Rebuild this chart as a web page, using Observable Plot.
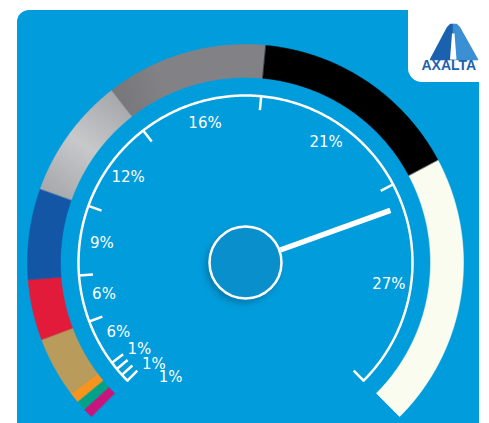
<!DOCTYPE html>
<html><head><meta charset="utf-8">
<script src="https://cdn.jsdelivr.net/npm/d3@7"></script>
<script src="https://cdn.jsdelivr.net/npm/@observablehq/plot@0.6"></script>
<style>
html,body{margin:0;padding:0;background:#fff;}
svg{overflow:hidden}
</style></head><body><div id="chart"></div>
<script>
// ---- data ----
const colorNames = ["Other","Green","Yellow/Gold","Natural","Red","Blue","Silver","Gray","Black","White"];
const shares = [1,1,1,6,6,9,12,16,21,27];
const segmentColors = ["#c8157d","#00a28a","#f7941e","#b99b5c","#e31b3b","#1456a6","#b7b8bb","#808084","#000000","#fbfcf0"];
const tickLabels = shares.map(v => v + "%");
const needleValue = 76;

// ---- geometry helpers ----
const W = 489, H = 423, CX = 245, CY = 262;
const BG = "#019cdb";
const angle = d3.scaleLinear([0, 100], [-135, 135]);
const rad = d => d * Math.PI / 180;
const polar = (deg, r) => ({x: r * Math.sin(rad(deg)), y: r * Math.cos(rad(deg))});
const P = (px, py) => ({x: px - CX, y: CY - py});

const cum = [0];
shares.forEach(v => cum.push(cum[cum.length - 1] + v));

const R_IN = 185, R_OUT = 218, R_SCALE = 167, R_TICK = 153;

// ring segments as closed polygons
const ring = [];
shares.forEach((v, i) => {
  const a0 = angle(cum[i]), a1 = angle(cum[i + 1]);
  const n = Math.max(2, Math.ceil((a1 - a0) / 0.5));
  for (let k = 0; k <= n; k++) ring.push({key: i, color: segmentColors[i], ...polar(a0 + (a1 - a0) * k / n, R_OUT)});
  for (let k = n; k >= 0; k--) ring.push({key: i, color: segmentColors[i], ...polar(a0 + (a1 - a0) * k / n, R_IN)});
});

// scale arc
const arc = d3.range(0, 100.001, 0.25).map(v => polar(angle(v), R_SCALE));

// ticks at every boundary
const ticks = cum.map(v => {
  const a = polar(angle(v), R_SCALE), b = polar(angle(v), R_TICK);
  return {x1: a.x, y1: a.y, x2: b.x, y2: b.y};
});

// labels
const smallIdx = shares.map((v, i) => i).filter(i => shares[i] < 3).sort((a, b) => b - a);
const labels = shares.map((v, i) => {
  const mid = angle((cum[i] + cum[i + 1]) / 2);
  let p;
  if (v < 3) {
    const k = smallIdx.indexOf(i);
    const base = angle((cum[smallIdx[0]] + cum[smallIdx[0] + 1]) / 2);
    p = polar(base - 1 - 8.8 * k, 137);
  } else {
    p = polar(mid, 145);
  }
  return {...p, text: tickLabels[i]};
});

// needle
const nA = angle(needleValue);
const needle = [{a: polar(nA, 37), b: polar(nA, 154)}];

// logo decoration
const logoLeft = [P(430,59),P(447,27),P(450,24),P(453,24),P(453,59)].map(d => ({...d, key: "l"}));
const logoRight = [P(453,24),P(456,24),P(459,27),P(477,59),P(453,59)].map(d => ({...d, key: "r"}));
const logoSlit = [P(449.5,59),P(451.5,33),P(454,33),P(456,59)].map(d => ({...d, key: "s"}));

const chart = Plot.plot({
  width: W, height: H, margin: 0,
  x: {domain: [-CX, W - CX], axis: null},
  y: {domain: [CY - H, CY], axis: null},
  style: {background: "#fff"},
  marks: [
    // background panel
    Plot.rect([{...P(17,10), b: P(479,440)}], {x1: "x", y1: "y", x2: d => d.b.x, y2: d => d.b.y, fill: BG, rx: 12}),
    // logo box
    Plot.rect([{...P(408,-20), b: P(520,82)}], {x1: "x", y1: "y", x2: d => d.b.x, y2: d => d.b.y, fill: "#fff", rx: 14}),
    Plot.line(logoLeft, {x: "x", y: "y", fill: "#1a62ad", stroke: "#1a62ad", strokeWidth: 1.5, strokeLinejoin: "round", curve: "linear-closed"}),
    Plot.line(logoRight, {x: "x", y: "y", fill: "#3b8fd3", stroke: "#3b8fd3", strokeWidth: 1.5, strokeLinejoin: "round", curve: "linear-closed"}),
    Plot.line(logoSlit, {x: "x", y: "y", fill: "#fff", stroke: "none", curve: "linear-closed"}),
    Plot.text(["AXALTA"], {x: P(421,0).x, y: P(0,65.5).y, text: d => d, textAnchor: "start", fill: "#1d62ad", fontSize: 14, fontWeight: "bold", fontFamily: "Liberation Sans, Arial, sans-serif", letterSpacing: -0.2}),
    // ring
    Plot.line(ring, {x: "x", y: "y", z: "key", fill: "color", stroke: "color", strokeWidth: 0.5, curve: "linear-closed", className: "ring"}),
    // scale arc + ticks
    Plot.line(arc, {x: "x", y: "y", stroke: "#fff", strokeWidth: 2.5}),
    Plot.link(ticks, {x1: "x1", y1: "y1", x2: "x2", y2: "y2", stroke: "#fff", strokeWidth: 2.5}),
    // labels
    Plot.text(labels, {x: "x", y: "y", text: "text", fill: "#fff", fontSize: 15, fontFamily: "DejaVu Sans, sans-serif"}),
    // needle
    Plot.link(needle, {x1: d => d.a.x, y1: d => d.a.y, x2: d => d.b.x, y2: d => d.b.y, stroke: "#fff", strokeWidth: 5.5}),
    // hub shadow and hub
    Plot.dot([{x: -3, y: -4}], {x: "x", y: "y", r: 37, fill: "#045f8c", fillOpacity: 0.55, className: "hubshadow"}),
    Plot.dot([{x: 0, y: 0}], {x: "x", y: "y", r: 36, fill: "#0a8fcd", stroke: "#fff", strokeWidth: 2.5})
  ]
});

// styling: blur for hub shadow, sheen on silver and gray segments
const svg = d3.select(chart);
const defs = svg.insert("defs", ":first-child");
defs.append("filter").attr("id", "blur").attr("x", "-50%").attr("y", "-50%").attr("width", "200%").attr("height", "200%")
  .append("feGaussianBlur").attr("stdDeviation", 3);
svg.selectAll(".hubshadow").attr("filter", "url(#blur)");

function addGrad(id, i, stops) {
  const p0 = polar(angle(cum[i]), 201), p1 = polar(angle(cum[i + 1]), 201);
  const g = defs.append("linearGradient").attr("id", id).attr("gradientUnits", "userSpaceOnUse")
    .attr("x1", CX + p0.x).attr("y1", CY - p0.y).attr("x2", CX + p1.x).attr("y2", CY - p1.y);
  stops.forEach(([o, c]) => g.append("stop").attr("offset", o).attr("stop-color", c));
}
addGrad("silverGrad", 6, [[0, "#a9aaad"], [0.5, "#c7c8ca"], [1, "#a8a9ac"]]);
addGrad("grayGrad", 7, [[0, "#77777c"], [0.3, "#828286"], [1, "#828286"]]);
svg.selectAll(".ring path").each(function() {
  const f = (this.getAttribute("fill") || "").toLowerCase();
  if (f === "#b7b8bb") { this.setAttribute("fill", "url(#silverGrad)"); this.setAttribute("stroke", "url(#silverGrad)"); }
  if (f === "#808084") { this.setAttribute("fill", "url(#grayGrad)"); this.setAttribute("stroke", "url(#grayGrad)"); }
});
document.getElementById("chart").append(chart);
</script></body></html>
